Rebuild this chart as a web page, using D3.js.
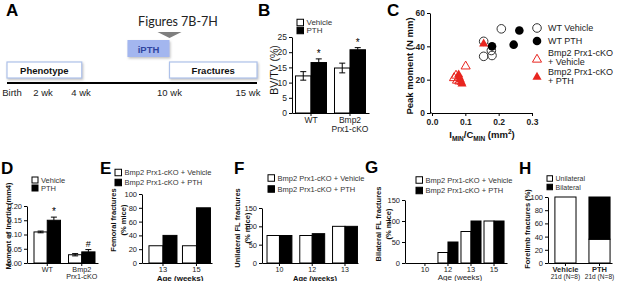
<!DOCTYPE html>
<html>
<head>
<meta charset="utf-8">
<script src="https://cdn.jsdelivr.net/npm/d3@7"></script>
<style>
  body { margin: 0; background: #fff; }
  svg text { font-family: "Liberation Sans", Arial, sans-serif; }
</style>
</head>
<body>
<svg id="chart" width="617" height="281"></svg>
<script>
// ---- A: timeline
var timeLabels = ["Birth", "2 wk", "4 wk", "10 wk", "15 wk"];
var timeWeeks = [0, 2, 4, 10, 15];
var phaseNames = ["Phenotype", "Fractures"];
var phaseFrom = [-0.35, 10];
var phaseTo = [4.05, 15.6];
var treatName = "iPTH";
var treatFrom = 7.15, treatTo = 10;
var figNote = "Figures 7B-7H";

// ---- B: BV/TV
var groupsB = ["WT", "Bmp2\nPrx1-cKO"];
var seriesB = ["Vehicle", "PTH"];
var bvtvMean = [[12.2, 16.6], [14.8, 20.8]];
var bvtvErr = [[1.4, 1.2], [1.6, 0.7]];
var bvtvMark = [["", "*"], ["", "*"]];
var ticksB = [0, 5, 10, 15, 20, 25];

// ---- C: peak moment vs Imin/Cmin
var wtVehicle = [[0.155, 43], [0.155, 34], [0.178, 37.5], [0.18, 34.5], [0.208, 50.5]];
var wtPTH = [[0.18, 40], [0.245, 41], [0.262, 49.5]];
var koVehicle = [[0.066, 21], [0.072, 22.5], [0.075, 19.5], [0.082, 19], [0.101, 28]];
var koPTH = [[0.08, 23], [0.082, 21.5], [0.085, 20], [0.088, 18.5], [0.09, 17.5], [0.155, 41.5]];
var legendC = [["WT Vehicle"], ["WT PTH"], ["Bmp2 Prx1-cKO", "+ Vehicle"], ["Bmp2 Prx1-cKO", "+ PTH"]];
var ticksCx = [0, 0.1, 0.2, 0.3];
var ticksCy = [0, 20, 40, 60];

// ---- D: moment of inertia
var groupsD = ["WT", "Bmp2\nPrx1-cKO"];
var inertiaMean = [[0.109, 0.150], [0.029, 0.039]];
var inertiaErr = [[0.003, 0.011], [0.004, 0.008]];
var inertiaMark = [["", "*"], ["", "#"]];
var ticksD = [0, 0.05, 0.10, 0.15, 0.20];

// ---- E, F, G: fractures by age
var seriesKO = ["Bmp2 Prx1-cKO + Vehicle", "Bmp2 Prx1-cKO + PTH"];
var agesE = ["13", "15"];
var femoralPct = [[25, 40], [25, 80]];
var agesF = ["10", "12", "13"];
var unilatPct = [[75, 75], [75, 80], [100, 100]];
var agesG = ["10", "12", "13", "15"];
var bilatPct = [[0, 0], [25, 50], [75, 100], [100, 100]];

// ---- H: forelimb fractures
var groupsH = ["Vehicle\n21d (N=8)", "PTH\n21d (N=8)"];
var unilateralH = [100, 36];
var bilateralH = [0, 64];

var svg = d3.select("#chart");
var fills = ["#fff", "#000"];
var red = "#e8251f";

function letter(t, x, y) {
  svg.append("text").attr("x", x).attr("y", y)
    .attr("font-size", 17).attr("font-weight", "bold").attr("fill", "#000").text(t);
}

function yAxisAt(scale, x, ticks, fmt, fs, bold) {
  var g = svg.append("g").attr("transform", "translate(" + x + ",0)")
    .call(d3.axisLeft(scale).tickValues(ticks).tickFormat(fmt).tickSize(3).tickSizeOuter(0).tickPadding(2));
  g.selectAll("text").attr("font-size", fs).attr("fill", "#222").attr("font-weight", bold ? "bold" : null);
  g.selectAll("line").attr("stroke", "#000");
  g.select(".domain").attr("stroke", "#000");
  return g;
}

// multi-line category labels; second line can get its own size
function xAxisAt(scale, y, fs, boldFirst, fs2) {
  var g = svg.append("g").attr("transform", "translate(0," + y + ")")
    .call(d3.axisBottom(scale).tickSize(3).tickSizeOuter(0).tickPadding(1));
  g.select(".domain").attr("stroke", "#000");
  g.selectAll("line").attr("stroke", "#000");
  g.selectAll(".tick text").attr("font-size", fs).attr("fill", "#222").each(function(d) {
    var lines = String(d).split("\n");
    var t = d3.select(this).text(null);
    lines.forEach(function(l, i) {
      t.append("tspan").attr("x", 0).attr("dy", i === 0 ? "0.71em" : "1.02em")
        .attr("font-size", i > 0 && fs2 ? fs2 : null)
        .attr("font-weight", boldFirst && i === 0 ? "bold" : null).text(l);
    });
  });
  return g;
}

function yLabel(lines, xs, cy, fs, bold) {
  lines.forEach(function(l, i) {
    svg.append("text").attr("transform", "translate(" + xs[i] + "," + cy + ") rotate(-90)")
      .attr("text-anchor", "middle").attr("dominant-baseline", "central")
      .attr("font-size", fs).attr("font-weight", bold ? "bold" : null).attr("fill", "#111").text(l);
  });
}

function squareLegend(names, x, y, gap, fs, sq) {
  names.forEach(function(n, i) {
    svg.append("rect").attr("x", x).attr("y", y + i * gap - sq / 2).attr("width", sq).attr("height", sq)
      .attr("fill", fills[i]).attr("stroke", "#000").attr("stroke-width", 1);
    svg.append("text").attr("x", x + sq + 3).attr("y", y + i * gap).attr("dominant-baseline", "central")
      .attr("font-size", fs).attr("fill", "#333").text(n);
  });
}

function barPanel(c) {
  var x0 = d3.scaleBand().domain(c.cats).range([c.lo, c.hi])
    .paddingInner(c.pi).paddingOuter(c.po).align(c.align);
  var x1 = d3.scaleBand().domain([0, 1]).range([0, x0.bandwidth()]);
  var y = d3.scaleLinear().domain([0, c.ymax]).range([c.ybase, c.ytop]);

  c.cats.forEach(function(cat, i) {
    c.vals[i].forEach(function(v, j) {
      var bx = x0(cat) + x1(j);
      svg.append("rect").attr("x", bx).attr("y", y(v)).attr("width", x1.bandwidth())
        .attr("height", c.ybase - y(v)).attr("fill", fills[j]).attr("stroke", "#000").attr("stroke-width", 1);
      if (c.errs) {
        var e = c.errs[i][j], cx = bx + x1.bandwidth() / 2;
        svg.append("line").attr("x1", cx).attr("x2", cx)
          .attr("y1", y(j === 0 ? v - e : v)).attr("y2", y(v + e))
          .attr("stroke", "#000").attr("stroke-width", 1);
        [v + e].concat(j === 0 ? [v - e] : []).forEach(function(w) {
          svg.append("line").attr("x1", cx - 3).attr("x2", cx + 3).attr("y1", y(w)).attr("y2", y(w))
            .attr("stroke", "#000").attr("stroke-width", 1);
        });
        var m = c.marks[i][j];
        if (m) {
          svg.append("text").attr("x", cx).attr("y", y(v + e) - (m === "*" ? 2 : 3))
            .attr("text-anchor", "middle").attr("fill", "#000")
            .attr("font-size", m === "*" ? 10 : 9).text(m);
        }
      }
    });
  });
  yAxisAt(y, c.lo, c.ticks, c.fmt, c.fs, false);
  xAxisAt(x0, c.ybase, c.xfs || c.fs, false);
  return {x0: x0, y: y};
}

// ================= A =================
letter("A", 6, 16);
var tx = d3.scaleLinear().domain([-0.35, 0, 2, 4, 10, 15, 15.6]).range([7, 12, 43, 81, 169.5, 248, 257]);

var defs = svg.append("defs");
var f = defs.append("filter").attr("id", "shadow").attr("x", "-20%").attr("y", "-20%").attr("width", "140%").attr("height", "160%");
f.append("feDropShadow").attr("dx", 1).attr("dy", 1.5).attr("stdDeviation", 1).attr("flood-color", "#999").attr("flood-opacity", 0.6);

svg.append("text").attr("x", 178).attr("y", 26).attr("text-anchor", "middle")
  .attr("font-size", 12.5).attr("fill", "#222").style("font-family", "Lato, 'Liberation Sans', sans-serif").text(figNote);
svg.append("path").attr("d", "M" + (tx(treatTo) - 12) + ",32 L" + (tx(treatTo) + 12) + ",32 L" + tx(treatTo) + ",38 Z")
  .attr("fill", "#7f7f7f");

svg.append("rect").attr("x", tx(treatFrom)).attr("y", 40).attr("width", tx(treatTo) - tx(treatFrom)).attr("height", 17)
  .attr("fill", "#a3b6ef").attr("filter", "url(#shadow)");
svg.append("text").attr("x", (tx(treatFrom) + tx(treatTo)) / 2).attr("y", 49).attr("text-anchor", "middle")
  .attr("dominant-baseline", "central").attr("font-size", 9.5).attr("font-weight", "bold").attr("fill", "#2f45a0").text(treatName);

phaseNames.forEach(function(n, i) {
  svg.append("rect").attr("x", tx(phaseFrom[i])).attr("y", 62).attr("width", tx(phaseTo[i]) - tx(phaseFrom[i])).attr("height", 16)
    .attr("fill", "#fff").attr("stroke", "#aec2ea").attr("stroke-width", 1.2).attr("filter", "url(#shadow)");
  svg.append("text").attr("x", (tx(phaseFrom[i]) + tx(phaseTo[i])) / 2).attr("y", 70.5).attr("text-anchor", "middle")
    .attr("dominant-baseline", "central").attr("font-size", 9.5).attr("font-weight", "bold").attr("fill", "#111").text(n);
});

svg.append("line").attr("x1", tx(-0.35)).attr("x2", tx(15.6)).attr("y1", 83).attr("y2", 83)
  .attr("stroke", "#000").attr("stroke-width", 2);
timeWeeks.forEach(function(w, i) {
  svg.append("text").attr("x", tx(w)).attr("y", 96).attr("text-anchor", "middle")
    .attr("font-size", 9.5).attr("fill", "#222").text(timeLabels[i]);
});

// ================= B =================
letter("B", 258, 16);
squareLegend(seriesB, 297, 22.5, 8, 8, 6.5);
barPanel({cats: groupsB, vals: bvtvMean, errs: bvtvErr, marks: bvtvMark,
  lo: 292, hi: 369, pi: 0.205, po: 0.09, align: 0.5,
  ybase: 113, ytop: 37, ymax: 25, ticks: ticksB, fmt: d3.format("d"), fs: 8.5});
yLabel(["BV/TV (%)"], [274], 70, 10.5, false);

// ================= C =================
letter("C", 387, 16);
var xc = d3.scaleLinear().domain([0, 0.3]).range([432, 532]);
var yc = d3.scaleLinear().domain([0, 60]).range([113, 13]);
yAxisAt(yc, 430, ticksCy, d3.format("d"), 8.5, true);
var gx = svg.append("g").attr("transform", "translate(0,113)")
  .call(d3.axisBottom(xc).tickValues(ticksCx).tickFormat(d3.format(".1f")).tickSize(3).tickSizeOuter(0).tickPadding(3));
gx.selectAll("text").attr("font-size", 8.5).attr("font-weight", "bold").attr("fill", "#222");
gx.selectAll("line").attr("stroke", "#000");
gx.select(".domain").attr("stroke", "#000");
svg.append("line").attr("x1", 430).attr("x2", 432).attr("y1", 113).attr("y2", 113).attr("stroke", "#000");

var tri = d3.symbol().type(d3.symbolTriangle).size(36);
svg.selectAll(".wtv").data(wtVehicle).enter().append("circle")
  .attr("cx", function(d) { return xc(d[0]); }).attr("cy", function(d) { return yc(d[1]); })
  .attr("r", 4.3).attr("fill", "none").attr("stroke", "#333").attr("stroke-width", 1);
svg.selectAll(".wtp").data(wtPTH).enter().append("circle")
  .attr("cx", function(d) { return xc(d[0]); }).attr("cy", function(d) { return yc(d[1]); })
  .attr("r", 4.3).attr("fill", "#000");
svg.selectAll(".kov").data(koVehicle).enter().append("path").attr("d", tri)
  .attr("transform", function(d) { return "translate(" + xc(d[0]) + "," + yc(d[1]) + ")"; })
  .attr("fill", "none").attr("stroke", red).attr("stroke-width", 1);
svg.selectAll(".kop").data(koPTH).enter().append("path").attr("d", tri)
  .attr("transform", function(d) { return "translate(" + xc(d[0]) + "," + yc(d[1]) + ")"; })
  .attr("fill", red);

var legY = [28, 41, 57.5, 76];
legendC.forEach(function(lines, i) {
  var cx = 537, cy = legY[i];
  if (i === 0) svg.append("circle").attr("cx", cx).attr("cy", cy).attr("r", 4.3).attr("fill", "none").attr("stroke", "#333");
  if (i === 1) svg.append("circle").attr("cx", cx).attr("cy", cy).attr("r", 4.3).attr("fill", "#000");
  if (i === 2) svg.append("path").attr("d", tri).attr("transform", "translate(" + cx + "," + (cy + 2) + ")").attr("fill", "none").attr("stroke", red);
  if (i === 3) svg.append("path").attr("d", tri).attr("transform", "translate(" + cx + "," + (cy + 1) + ")").attr("fill", red);
  lines.forEach(function(l, k) {
    svg.append("text").attr("x", 548).attr("y", cy + (lines.length === 1 ? 0 : (k === 0 ? -4.5 : 4.5)))
      .attr("dominant-baseline", "central").attr("font-size", 9).attr("fill", "#222").text(l);
  });
});
yLabel(["Peak moment (N mm)"], [409], 66, 9.5, true);
var xl = svg.append("text").attr("x", 482).attr("y", 138).attr("text-anchor", "middle")
  .attr("font-size", 9.5).attr("font-weight", "bold").attr("fill", "#111");
xl.append("tspan").text("I");
xl.append("tspan").attr("font-size", 6.5).attr("dy", 2.5).text("MIN");
xl.append("tspan").attr("dy", -2.5).text("/C");
xl.append("tspan").attr("font-size", 6.5).attr("dy", 2.5).text("MIN");
xl.append("tspan").attr("dy", -2.5).text(" (mm");
xl.append("tspan").attr("font-size", 6.5).attr("dy", -4).text("2");
xl.append("tspan").attr("dy", 4).text(")");

// ================= D =================
letter("D", 1, 174);
squareLegend(seriesB, 32, 180, 8, 7.5, 6);
barPanel({cats: groupsD, vals: inertiaMean, errs: inertiaErr, marks: inertiaMark,
  lo: 27, hi: 98, pi: 0.232, po: 0.145, align: 0.7,
  ybase: 263, ytop: 206, ymax: 0.2, ticks: ticksD, fmt: d3.format(".2f"), fs: 7.5, xfs: 7.2});
yLabel(["Moment of Inertia (mm4)"], [8], 226, 7.5, true);

// ================= E =================
letter("E", 100, 174);
squareLegend(seriesKO, 115, 172.5, 10, 7.5, 6.5);
barPanel({cats: agesE, vals: femoralPct, lo: 142, hi: 212, pi: 0.164, po: 0.127, align: 0.82,
  ybase: 263, ytop: 194, ymax: 100, ticks: d3.range(0, 101, 20), fmt: d3.format("d"), fs: 7.5});
yLabel(["Femoral fractures", "(% mice)"], [113, 123], 220, 7.5, true);
svg.append("text").attr("x", 180).attr("y", 280.5).attr("text-anchor", "middle")
  .attr("font-size", 8).attr("font-weight", "bold").attr("fill", "#111").text("Age (weeks)");

// ================= F =================
letter("F", 234, 174);
squareLegend(seriesKO, 268, 178, 11, 7.5, 6.5);
barPanel({cats: agesF, vals: unilatPct, lo: 262, hi: 358, pi: 0.24, po: 0.085, align: 0.9,
  ybase: 263, ytop: 208, ymax: 150, ticks: [0, 50, 100, 150], fmt: d3.format("d"), fs: 7.5, xfs: 7});
yLabel(["Unilateral FL fractures", "(% mice)"], [237, 247], 228, 7.5, true);
svg.append("text").attr("x", 315).attr("y", 280.5).attr("text-anchor", "middle")
  .attr("font-size", 7.5).attr("font-weight", "bold").attr("fill", "#111").text("Age (weeks)");

// ================= G =================
letter("G", 365, 173);
squareLegend(seriesKO, 416, 180, 10.5, 7.5, 6.5);
barPanel({cats: agesG, vals: bilatPct, lo: 405, hi: 507, pi: 0.13, po: 0.28, align: 0.77,
  ybase: 263, ytop: 200, ymax: 150, ticks: [0, 50, 100, 150], fmt: d3.format("d"), fs: 7.5});
yLabel(["Bilateral FL fractures", "(% mice)"], [378, 388], 224, 7.5, true);
svg.append("text").attr("x", 460).attr("y", 280).attr("text-anchor", "middle")
  .attr("font-size", 8).attr("fill", "#222").text("Age (weeks)");

// ================= H =================
letter("H", 519, 174);
var legH = ["Unilateral", "Bilateral"];
squareLegend(legH, 547, 178.5, 8.5, 7, 5.5);
var xh = d3.scaleBand().domain(groupsH).range([548, 612]).paddingInner(0.38).paddingOuter(0.13).align(0.78);
var yh = d3.scaleLinear().domain([0, 100]).range([263, 197]);
var stackH = d3.stack().keys(["uni", "bi"])(groupsH.map(function(g, i) { return {uni: unilateralH[i], bi: bilateralH[i]}; }));
stackH.forEach(function(layer, k) {
  layer.forEach(function(d, i) {
    if (d[1] - d[0] <= 0) return;
    svg.append("rect").attr("x", xh(groupsH[i])).attr("y", yh(d[1])).attr("width", xh.bandwidth())
      .attr("height", yh(d[0]) - yh(d[1])).attr("fill", fills[k]).attr("stroke", "#000");
  });
});
yAxisAt(yh, 548, d3.range(0, 101, 20), d3.format("d"), 7.5, false);
xAxisAt(xh, 263, 7.5, true, 6.6);
yLabel(["Forelimb fractures (%)"], [527], 229, 7.5, true);
</script>
</body>
</html>
